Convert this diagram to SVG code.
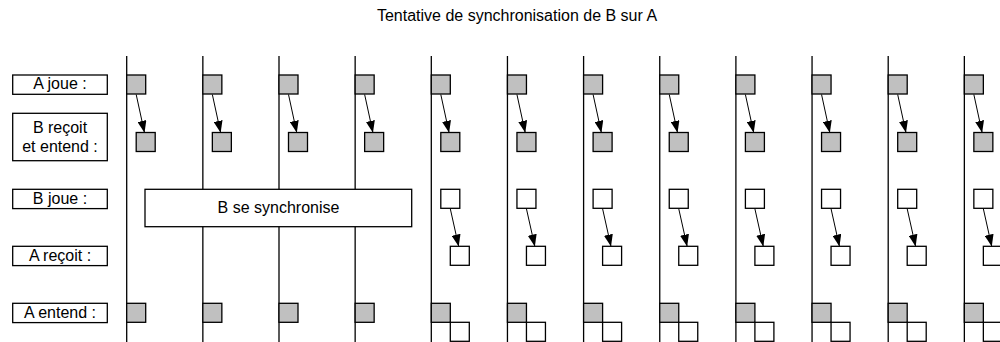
<svg xmlns="http://www.w3.org/2000/svg" xmlns:xlink="http://www.w3.org/1999/xlink" width="1000" height="342" viewBox="0 0 1000 342">
<style>
text{font-family:"Liberation Sans",Arial,sans-serif;font-size:16px;fill:#000}
.lbl{text-anchor:middle}
.box{fill:#fff;stroke:#000;stroke-width:1.3}
.g{fill:#c0c0c0;stroke:#000;stroke-width:1.3}
.w{fill:#fff;stroke:#000;stroke-width:1.3}
.tl{stroke:#000;stroke-width:1.3}
.ar{stroke:#000;stroke-width:1;fill:none;marker-end:url(#ah)}
</style>
<defs>
<marker id="ah" markerUnits="userSpaceOnUse" markerWidth="12" markerHeight="9" refX="11.5" refY="4.5" orient="auto">
<path d="M0,0 L12,4.5 L0,9 z" fill="#000"/>
</marker>
<g id="colA">
<rect class="g" x="0" y="75" width="19" height="19"/>
<rect class="g" x="9.5" y="132.5" width="19" height="19"/>
<rect class="g" x="0" y="303.3" width="19" height="19"/>
</g>
<g id="colB">
<rect class="g" x="0" y="75" width="19" height="19"/>
<rect class="g" x="9.5" y="132.5" width="19" height="19"/>
<rect class="w" x="9.5" y="189.3" width="19" height="19"/>
<rect class="w" x="19" y="246.3" width="19" height="19"/>
<rect class="g" x="0" y="303.3" width="19" height="19"/>
<rect class="w" x="19" y="322.3" width="19" height="19"/>
</g>
</defs>
<rect width="1000" height="342" fill="#fff"/>
<text id="title" x="517" y="20.7" class="lbl">Tentative de synchronisation de B sur A</text>
<g id="labels">
<g id="lbl-a-joue"><rect class="box" x="12.7" y="75" width="94.6" height="19.3"/><text class="lbl" x="60" y="89.3">A joue :</text></g>
<g id="lbl-b-recoit"><rect class="box" x="12.7" y="113.3" width="94.6" height="47.4"/><text class="lbl" x="60" y="133.3">B reçoit</text><text class="lbl" x="60" y="152.3">et entend :</text></g>
<g id="lbl-b-joue"><rect class="box" x="12.7" y="189.3" width="94.6" height="19.3"/><text class="lbl" x="60" y="203.6">B joue :</text></g>
<g id="lbl-a-recoit"><rect class="box" x="12.7" y="246.3" width="94.6" height="19.3"/><text class="lbl" x="60" y="260.6">A reçoit :</text></g>
<g id="lbl-a-entend"><rect class="box" x="12.7" y="303.3" width="94.6" height="19.3"/><text class="lbl" x="60" y="317.6">A entend :</text></g>
</g>
<g id="timelines">
<line class="tl" x1="126.7" y1="56" x2="126.7" y2="342"/>
<line class="tl" x1="202.85" y1="56" x2="202.85" y2="342"/>
<line class="tl" x1="279" y1="56" x2="279" y2="342"/>
<line class="tl" x1="355.15" y1="56" x2="355.15" y2="342"/>
<line class="tl" x1="431.3" y1="56" x2="431.3" y2="342"/>
<line class="tl" x1="507.45" y1="56" x2="507.45" y2="342"/>
<line class="tl" x1="583.6" y1="56" x2="583.6" y2="342"/>
<line class="tl" x1="659.75" y1="56" x2="659.75" y2="342"/>
<line class="tl" x1="735.9" y1="56" x2="735.9" y2="342"/>
<line class="tl" x1="812.05" y1="56" x2="812.05" y2="342"/>
<line class="tl" x1="888.2" y1="56" x2="888.2" y2="342"/>
<line class="tl" x1="964.35" y1="56" x2="964.35" y2="342"/>
</g>
<g id="sync"><rect class="box" x="145" y="189.3" width="266.7" height="37.4"/><text class="lbl" x="278.5" y="213.3">B se synchronise</text></g>
<g id="col1"><use xlink:href="#colA" x="126.7"/></g>
<g id="col2"><use xlink:href="#colA" x="202.85"/></g>
<g id="col3"><use xlink:href="#colA" x="279"/></g>
<g id="col4"><use xlink:href="#colA" x="355.15"/></g>
<g id="col5"><use xlink:href="#colB" x="431.3"/></g>
<g id="col6"><use xlink:href="#colB" x="507.45"/></g>
<g id="col7"><use xlink:href="#colB" x="583.6"/></g>
<g id="col8"><use xlink:href="#colB" x="659.75"/></g>
<g id="col9"><use xlink:href="#colB" x="735.9"/></g>
<g id="col10"><use xlink:href="#colB" x="812.05"/></g>
<g id="col11"><use xlink:href="#colB" x="888.2"/></g>
<g id="col12"><use xlink:href="#colB" x="964.35"/></g>
<g id="connectors">
<g transform="translate(126.7,0)"><path class="ar" d="M9.5,94.5 L17.7,132.3"/></g>
<g transform="translate(202.85,0)"><path class="ar" d="M9.5,94.5 L17.7,132.3"/></g>
<g transform="translate(279,0)"><path class="ar" d="M9.5,94.5 L17.7,132.3"/></g>
<g transform="translate(355.15,0)"><path class="ar" d="M9.5,94.5 L17.7,132.3"/></g>
<g transform="translate(431.3,0)"><path class="ar" d="M9.5,94.5 L17.7,132.3"/><path class="ar" d="M19,208.8 L27.3,246"/></g>
<g transform="translate(507.45,0)"><path class="ar" d="M9.5,94.5 L17.7,132.3"/><path class="ar" d="M19,208.8 L27.3,246"/></g>
<g transform="translate(583.6,0)"><path class="ar" d="M9.5,94.5 L17.7,132.3"/><path class="ar" d="M19,208.8 L27.3,246"/></g>
<g transform="translate(659.75,0)"><path class="ar" d="M9.5,94.5 L17.7,132.3"/><path class="ar" d="M19,208.8 L27.3,246"/></g>
<g transform="translate(735.9,0)"><path class="ar" d="M9.5,94.5 L17.7,132.3"/><path class="ar" d="M19,208.8 L27.3,246"/></g>
<g transform="translate(812.05,0)"><path class="ar" d="M9.5,94.5 L17.7,132.3"/><path class="ar" d="M19,208.8 L27.3,246"/></g>
<g transform="translate(888.2,0)"><path class="ar" d="M9.5,94.5 L17.7,132.3"/><path class="ar" d="M19,208.8 L27.3,246"/></g>
<g transform="translate(964.35,0)"><path class="ar" d="M9.5,94.5 L17.7,132.3"/><path class="ar" d="M19,208.8 L27.3,246"/></g>
</g>
</svg>
